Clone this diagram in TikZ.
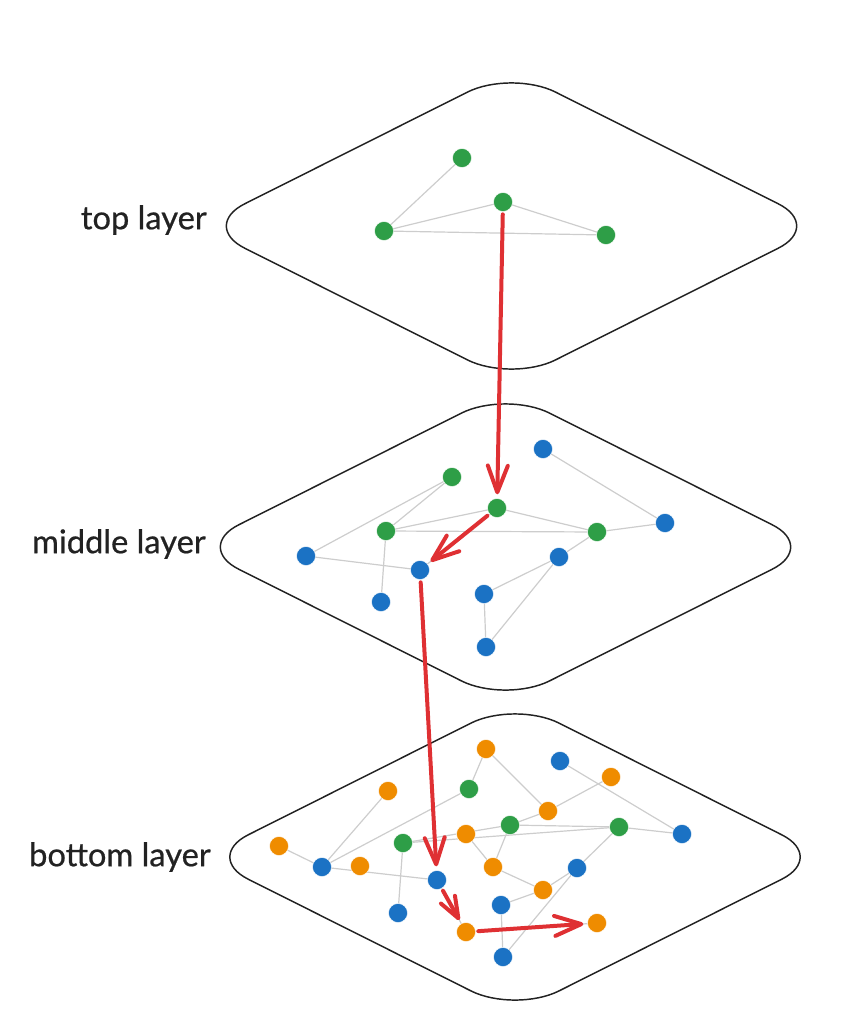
\documentclass[tikz,border=0pt]{standalone}
\usepackage{fontspec}
\setmainfont{Lato}
\newfontfamily\lblfont{Lato}[FakeBold=0.6]
\usetikzlibrary{arrows.meta}
\definecolor{dgreen}{HTML}{2E9E47}
\definecolor{dblue}{HTML}{1B72C4}
\definecolor{dorange}{HTML}{EF8C00}
\definecolor{arrowred}{HTML}{DF3033}
\definecolor{edgegray}{HTML}{CDCDCD}
\definecolor{outline}{HTML}{222222}
\definecolor{labeltext}{HTML}{222222}
\pgfdeclarelayer{bg}
\pgfsetlayers{bg,main}
\tikzset{
  layer/.style={draw=outline, line width=1.1pt, rounded corners=37pt},
  dot/.style={circle, inner sep=0pt, minimum size=14.25pt, draw=white, line width=0.3pt},
  gn/.style={dot, fill=dgreen},
  bn/.style={dot, fill=dblue},
  on/.style={dot, fill=dorange},
  link/.style={draw=edgegray, line width=0.9pt},
  redarrow/.style={draw=arrowred, line width=3pt, line cap=round,
     -{Straight Barb[length=20pt,width=15pt,round]}, shorten <=2pt, shorten >=3pt},
  smallredarrow/.style={redarrow, -{Straight Barb[length=16pt,width=12pt,round]}},
  lbl/.style={anchor=east, text=labeltext, font=\lblfont\fontsize{24.5}{29}\selectfont, inner sep=0pt}
}
\begin{document}
\begin{tikzpicture}[x=0.75pt, y=-0.75pt]
\useasboundingbox (0,0) rectangle (858,1024);
% layers
\draw[layer, shift={(511.5,226)}] (-311,0) -- (0,-156) -- (311,0) -- (0,156) -- cycle;
\draw[layer, shift={(505.5,547)}] (-311,0) -- (0,-156) -- (311,0) -- (0,156) -- cycle;
\draw[layer, shift={(515,857)}] (-311,0) -- (0,-156) -- (311,0) -- (0,156) -- cycle;
% labels
\node[lbl] (ltop) at (207,220) {top layer};
\node[lbl] (lmid) at (206,544) {middle layer};
\node[lbl] (lbot) at (211,857) {bottom layer};
% top layer nodes
\node[gn] (t1) at (462,158) {};
\node[gn] (t2) at (503,202) {};
\node[gn] (t3) at (384,231) {};
\node[gn] (t4) at (606,235) {};
% middle layer nodes
\node[bn] (mb1) at (543,449) {};
\node[gn] (mg1) at (452,477) {};
\node[gn] (mg2) at (497,508) {};
\node[gn] (mg3) at (386,531) {};
\node[gn] (mg4) at (597,532) {};
\node[bn] (mb2) at (665,523) {};
\node[bn] (mb3) at (306,556) {};
\node[bn] (mb4) at (559,557) {};
\node[bn] (mb5) at (420,570) {};
\node[bn] (mb6) at (484,594) {};
\node[bn] (mb7) at (381,602) {};
\node[bn] (mb8) at (486,647) {};
% bottom layer nodes
\node[on] (bo1) at (486,749) {};
\node[bn] (bb1) at (560,761) {};
\node[on] (bo2) at (611,777) {};
\node[on] (bo3) at (388,791) {};
\node[gn] (bg1) at (469,789) {};
\node[on] (bo4) at (548,811) {};
\node[gn] (bg2) at (510,825) {};
\node[on] (bo5) at (466,834) {};
\node[gn] (bg3) at (619,827) {};
\node[bn] (bb2) at (682,834) {};
\node[on] (bo6) at (279,846) {};
\node[gn] (bg4) at (403,843) {};
\node[bn] (bb3) at (322,867) {};
\node[on] (bo7) at (360,866) {};
\node[on] (bo8) at (493,867) {};
\node[bn] (bb4) at (577,868) {};
\node[bn] (bb5) at (437,880) {};
\node[on] (bo9) at (543,890) {};
\node[bn] (bb6) at (501,905) {};
\node[bn] (bb7) at (398,913) {};
\node[on] (bo10) at (466,932) {};
\node[on] (bo11) at (597,923) {};
\node[bn] (bb8) at (503,957) {};
% edges (behind nodes)
\begin{pgfonlayer}{bg}
\foreach \a/\b in {t1/t3, t3/t2, t2/t4, t3/t4,
  mb1/mb2, mg1/mb3, mg1/mg3, mg3/mg2, mg2/mg4, mg3/mg4, mg4/mb2, mg4/mb4,
  mb3/mb5, mg3/mb7, mg2/mb5, mb4/mb6, mb6/mb8, mb4/mb8,
  bo1/bg1, bo1/bo4, bb1/bb2, bo2/bo4, bo4/bg2, bo3/bb3, bg1/bb3, bo6/bb3,
  bb3/bb5, bg4/bg2, bg4/bg3, bg2/bg3, bg3/bb2, bg3/bb4, bg2/bo8, bo5/bo8,
  bo8/bo9, bb4/bo9, bo9/bb6, bb6/bb8, bb4/bb8, bg4/bb7, bb5/bo10, bo10/bo11}
  \draw[link] (\a.center) -- (\b.center);
\end{pgfonlayer}
% red path
\draw[redarrow] (t2) -- (mg2);
\draw[redarrow] (mg2) -- (mb5);
\draw[redarrow] (mb5) -- (bb5);
\draw[smallredarrow] (bb5) -- (bo10);
\draw[redarrow] (bo10) -- (bo11);
\end{tikzpicture}
\end{document}
